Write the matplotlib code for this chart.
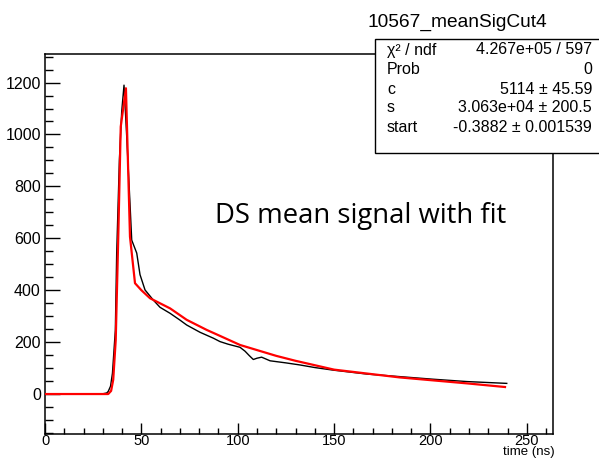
import matplotlib
matplotlib.use('Agg')
import matplotlib.pyplot as plt
from matplotlib.patches import Rectangle
from matplotlib.ticker import MultipleLocator

# mean signal
sig_t = [0, 10, 20, 30, 32.0, 32.8, 34.0, 35.0, 36.5, 37.2, 38.6, 39.8, 41.0, 42.4, 44.1, 45.0,
         47.6, 49.3, 51.9, 56.2, 59.7, 64.9, 70.0, 73.5, 80.4, 87.4, 90.8, 95.0, 101.2,
         103.8, 106.0, 108.1, 110.0, 112.4, 116.8, 125.0, 132.3, 140.0, 149.6, 166.9,
         184.2, 201.5, 219.0, 239.6]
sig_v = [0, 0, 0, 1, 4, 10, 30, 80, 246, 543, 902, 1088, 1190, 992, 735, 593,
         543, 460, 401, 362, 334, 311, 285, 266, 238, 215, 202, 192, 180,
         165, 148, 133, 138, 142, 128, 120, 112, 102, 92, 77,
         67, 57, 48, 41]

# fit curve
fit_t = [0, 32.8, 34.3, 35.4, 36.7, 38.0, 39.3, 42.0, 44.1, 46.7, 50.0, 54.5, 64.9,
         73.5, 83.9, 90.8, 101.2, 120.0, 130.0, 150.0, 184.0, 219.0, 238.7]
fit_v = [0, 0, 12, 55, 208, 600, 1030, 1178, 606, 427, 400, 369, 330,
         286, 247, 224, 189, 147, 128, 94, 64, 41, 27]

stat_names = ['χ² / ndf', 'Prob', 'c', 's', 'start']
stat_vals = ['4.267e+05 / 597', '0', '5114 ± 45.59', '3.063e+04 ± 200.5', '-0.3882 ± 0.001539']

plt.rcParams['font.family'] = ['Liberation Sans', 'DejaVu Sans']

fig = plt.figure(figsize=(5.99, 4.58), dpi=100)
W, H = 599.0, 458.0
ax = fig.add_axes([45 / W, 1 - 434 / H, (553 - 45) / W, (434 - 54) / H])

ax.plot(sig_t, sig_v, color='black', lw=1.0, zorder=2)
ax.plot(fit_t, fit_v, color='red', lw=1.6, zorder=3)

ax.set_xlim(0, 263.6)
ax.set_ylim(-154, 1310)
ax.xaxis.set_major_locator(MultipleLocator(50))
ax.xaxis.set_minor_locator(MultipleLocator(10))
ax.yaxis.set_major_locator(MultipleLocator(200))
ax.yaxis.set_minor_locator(MultipleLocator(50))
ax.tick_params(axis='x', which='major', direction='in', length=8.2, width=1, labelsize=10.5, pad=0)
ax.tick_params(axis='x', which='minor', direction='in', length=4.1, width=1)
ax.tick_params(axis='y', which='major', direction='in', length=10.8, width=1, labelsize=11.5, pad=3)
ax.tick_params(axis='y', which='minor', direction='in', length=5.4, width=1)
for s in ax.spines.values():
    s.set_linewidth(1.1)

fig.text(555 / W, 1 - 451.5 / H, 'time (ns)', ha='right', va='center', fontsize=9.5)

fig.text(215 / W, 1 - 223 / H, 'DS mean signal with fit', ha='left', va='baseline',
         fontsize=19.8, family='Open Sans')

# stats box
box = Rectangle((375 / W, 1 - 153 / H), 1.0, (153 - 39) / H, transform=fig.transFigure,
                facecolor='white', edgecolor='black', lw=1.0, zorder=5)
fig.add_artist(box)
fig.text(457 / W, 1 - 22 / H, '10567_meanSigCut4', ha='center', va='center', fontsize=13.8)
row_y = [50, 70, 89, 108, 128]
for name, val, yy in zip(stat_names, stat_vals, row_y):
    fig.text(387 / W, 1 - yy / H, name, ha='left', va='center', fontsize=11.5, zorder=6)
    fig.text(592 / W, 1 - yy / H, val, ha='right', va='center', fontsize=11.5, zorder=6)

fig.savefig('out.png', dpi=100)
